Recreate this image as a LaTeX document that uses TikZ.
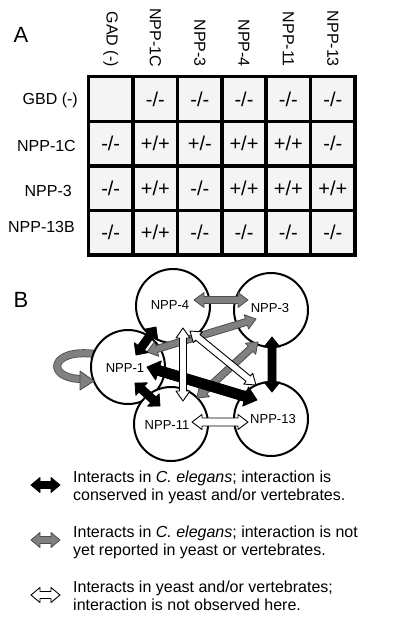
\documentclass[tikz,border=0pt]{standalone}
\usepackage{fontspec}
\setmainfont{Liberation Sans}
\usetikzlibrary{calc}
\definecolor{arrgray}{HTML}{808080}
\definecolor{cellbg}{HTML}{F4F4F4}
\newcommand{\dblarr}[6]{%
  \path[#1] (#2) -- ($(#2)!#6!(#3)!#5!90:(#3)$) -- ($(#2)!#6!(#3)!#4!90:(#3)$)
   -- ($(#3)!#6!(#2)!#4!-90:(#2)$) -- ($(#3)!#6!(#2)!#5!-90:(#2)$) -- (#3)
   -- ($(#3)!#6!(#2)!#5!90:(#2)$) -- ($(#3)!#6!(#2)!#4!90:(#2)$)
   -- ($(#2)!#6!(#3)!#4!-90:(#3)$) -- ($(#2)!#6!(#3)!#5!-90:(#3)$) -- cycle;}
\begin{document}
\begin{tikzpicture}[x=1pt,y=-1pt,
  lab/.style={inner sep=0, font=\fontsize{16}{18}\selectfont},
  cell/.style={inner sep=0, font=\fontsize{20}{22}\selectfont},
  big/.style={inner sep=0, font=\fontsize{22}{24}\selectfont},
  circ/.style={circle, draw=black, line width=2pt, fill=white, minimum size=74pt, inner sep=0},
  clab/.style={inner sep=0, font=\fontsize{13}{15}\selectfont},
  blk/.style={fill=black, draw=black, line width=0.8pt, line join=round},
  gry/.style={fill=arrgray, draw=black!70, line width=0.8pt, line join=round},
  wht/.style={fill=white, draw=black, line width=0.9pt, line join=round},
  leg/.style={inner sep=0, anchor=base west, font=\fontsize{16}{18}\selectfont}]
\useasboundingbox (0,0) rectangle (400,622);
\fill[white] (0,0) rectangle (400,622);
% panel labels
\node[big] (labA) at (21,35) {A};
\node[big] (labB) at (21,300) {B};
% table
\fill[cellbg] (88.3,76.7) rectangle (355,255);
\foreach \x in {133,177.5,222,266,310.5}
  \draw[line width=3.5pt] (\x,76.7) -- (\x,255);
\foreach \y in {121.3,165.8,210.4}
  \draw[line width=3.5pt] (88.3,\y) -- (355,\y);
\draw[line width=3.5pt] (88.3,76.7) rectangle (355,255);
% column headers
\foreach \x/\t/\n in {110.7/GAD (-)/h1,155.3/NPP-1C/h2,199.8/NPP-3/h3,244/NPP-4/h4,288.3/NPP-11/h5,332.8/NPP-13/h6}
  \node[lab, rotate=-90, anchor=east] (\n) at (\x,67) {\t};
% row labels
\node[lab, anchor=east] (r1) at (78,100) {GBD (-)};
\node[lab, anchor=east] (r2) at (76,146) {NPP-1C};
\node[lab, anchor=east] (r3) at (72,191) {NPP-3};
\node[lab, anchor=east] (r4) at (75,227) {NPP-13B};
% cells
\foreach \x/\t [count=\i] in {155.3/{-/-},199.8/{-/-},244/{-/-},288.3/{-/-},332.8/{-/-}}
  \node[cell] (ca\i) at (\x,99) {\t};
\foreach \x/\t [count=\i] in {110.7/{-/-},155.3/{+/+},199.8/{+/-},244/{+/+},288.3/{+/+},332.8/{-/-}}
  \node[cell] (cb\i) at (\x,143.5) {\t};
\foreach \x/\t [count=\i] in {110.7/{-/-},155.3/{+/+},199.8/{-/-},244/{+/+},288.3/{+/+},332.8/{+/+}}
  \node[cell] (cc\i) at (\x,188) {\t};
\foreach \x/\t [count=\i] in {110.7/{-/-},155.3/{+/+},199.8/{-/-},244/{-/-},288.3/{-/-},332.8/{-/-}}
  \node[cell] (cd\i) at (\x,232.7) {\t};
% self loop band (behind circles)
\draw[line width=8pt, draw=black!70] (95,354) .. controls (50,348) and (45,378) .. (81,379);
\draw[line width=6.4pt, draw=arrgray] (95,354) .. controls (50,348) and (45,378) .. (81,379);
% circles
\node[circ] (n4) at (173,306) {};
\node[circ] (n3) at (271,310) {};
\node[circ] (n1) at (128,367) {};
\node[circ] (n13) at (271,419) {};
\node[circ] (n11) at (171,424) {};
\node[clab] (t4) at (170,305) {NPP-4};
\node[clab] (t3) at (270,308) {NPP-3};
\node[clab] (t1c) at (125,368) {NPP-1};
\node[clab] (t13) at (273,419) {NPP-13};
\node[clab] (t11) at (167,425) {NPP-11};
% loop head
\coordinate (lpa) at (80,371);
\coordinate (lpt) at (94,381);
\coordinate (lpb) at (80,390);
\path[gry] (lpa) -- (lpt) -- (lpb) -- cycle;
% arrow end points
\coordinate (g1a) at (194,300); \coordinate (g1b) at (248,300);
\coordinate (g2a) at (147,352); \coordinate (g2b) at (256,319);
\coordinate (g3a) at (197,398); \coordinate (g3b) at (258,342);
\coordinate (k1a) at (136,355); \coordinate (k1b) at (156,327);
\coordinate (k2a) at (147,367); \coordinate (k2b) at (257,400);
\coordinate (k3a) at (272,337); \coordinate (k3b) at (272,392);
\coordinate (k4a) at (135,383); \coordinate (k4b) at (160,406);
\coordinate (w1a) at (183,328); \coordinate (w1b) at (183,401);
\coordinate (w2a) at (190,331); \coordinate (w2b) at (256,385);
\coordinate (w3a) at (192,422); \coordinate (w3b) at (248,422);
% gray arrows
\dblarr{gry}{g1a}{g1b}{3.5pt}{7.5pt}{10pt}
\dblarr{gry}{g2a}{g2b}{3.5pt}{7.5pt}{10pt}
\dblarr{gry}{g3a}{g3b}{3.5pt}{7.5pt}{10pt}
% black arrows
\dblarr{blk}{k1a}{k1b}{4pt}{8.5pt}{9pt}
\dblarr{blk}{k2a}{k2b}{5pt}{10pt}{12pt}
\dblarr{blk}{k3a}{k3b}{4pt}{8pt}{10pt}
\dblarr{blk}{k4a}{k4b}{4pt}{8.5pt}{9pt}
% white arrows
\dblarr{wht}{w1a}{w1b}{3.5pt}{7pt}{10pt}
\dblarr{wht}{w2a}{w2b}{3.5pt}{7pt}{10pt}
\dblarr{wht}{w3a}{w3b}{4pt}{7.5pt}{10pt}
% legend
\coordinate (l1a) at (31,485); \coordinate (l1b) at (60,485);
\coordinate (l2a) at (31,540); \coordinate (l2b) at (60,540);
\coordinate (l3a) at (31,595); \coordinate (l3b) at (60,595);
\dblarr{blk}{l1a}{l1b}{3.5pt}{7.5pt}{9pt}
\dblarr{gry}{l2a}{l2b}{3.5pt}{7.5pt}{9pt}
\dblarr{wht}{l3a}{l3b}{3.5pt}{7.5pt}{9pt}
\node[leg] (t1) at (73,482) {Interacts in \textit{C. elegans}; interaction is};
\node[leg] (t2) at (73,500) {conserved in yeast and/or vertebrates.};
\node[leg] (t5a) at (73,537) {Interacts in \textit{C. elegans}; interaction is not};
\node[leg] (t6a) at (73,555) {yet reported in yeast or vertebrates.};
\node[leg] (t7) at (73,592) {Interacts in yeast and/or vertebrates;};
\node[leg] (t8) at (73,610) {interaction is not observed here.};
\end{tikzpicture}
\end{document}
